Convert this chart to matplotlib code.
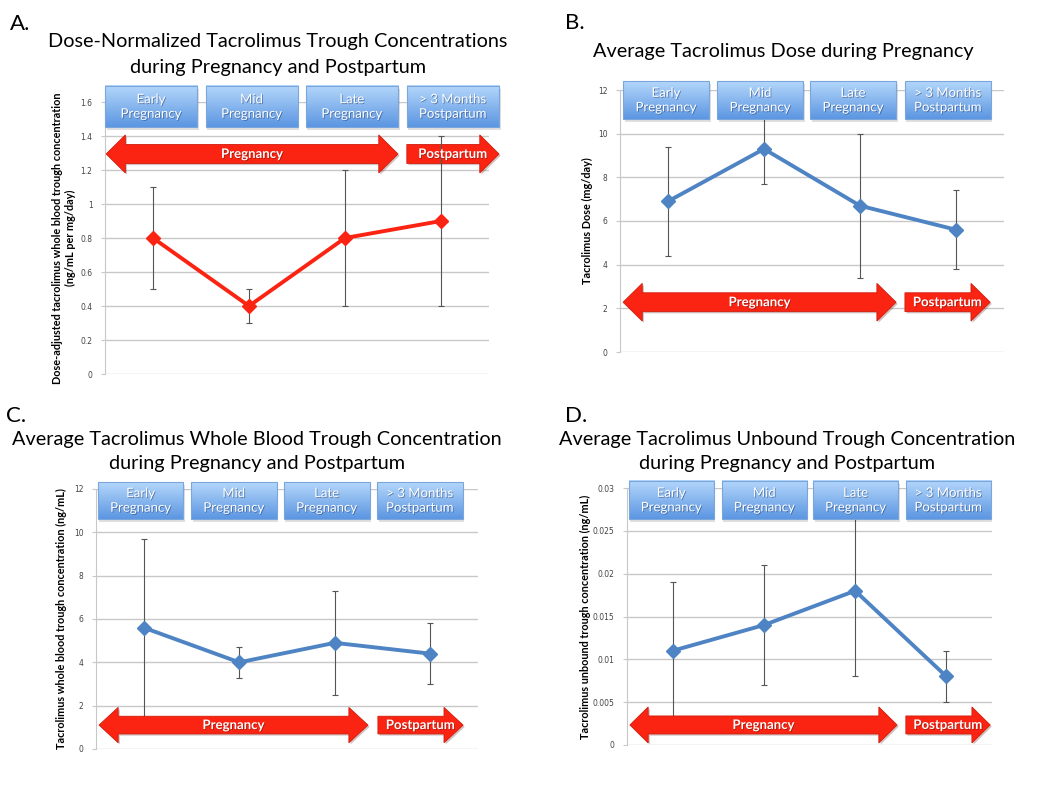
import numpy as np
import matplotlib
matplotlib.use("Agg")
import matplotlib.pyplot as plt
from matplotlib.patches import Polygon, Rectangle
import matplotlib.patheffects as pe

plt.rcParams['font.family'] = ['Lato', 'DejaVu Sans']

# data
phases = ['Early\nPregnancy', 'Mid\nPregnancy', 'Late\nPregnancy', '> 3 Months\nPostpartum']

normalized_mean = [0.8, 0.4, 0.8, 0.9]
normalized_err = [0.3, 0.1, 0.4, 0.5]

dose_mean = [6.9, 9.3, 6.7, 5.6]
dose_err = [2.5, 1.6, 3.3, 1.8]

whole_mean = [5.6, 4.0, 4.9, 4.4]
whole_err = [4.1, 0.7, 2.4, 1.4]

unbound_mean = [0.011, 0.014, 0.018, 0.008]
unbound_err = [0.008, 0.007, 0.010, 0.003]

RED = '#fb2412'
BLUE = '#4f84c4'

W, H = 1050, 788
fig = plt.figure(figsize=(10.5, 7.88), dpi=100)
fig.patch.set_facecolor('white')


def px_axes(left, bottom, width, height):
    return fig.add_axes([left / W, (H - bottom) / H, width / W, height / H])


def draw_arrow(ax, x0, x1, yc, hh, bh, hl, left_head, label, z):
    pts = []
    if left_head:
        pts += [(x0, yc), (x0 + hl, yc + hh), (x0 + hl, yc + bh)]
    else:
        pts += [(x0, yc + bh)]
    pts += [(x1 - hl, yc + bh), (x1 - hl, yc + hh), (x1, yc),
            (x1 - hl, yc - hh), (x1 - hl, yc - bh)]
    if left_head:
        pts += [(x0 + hl, yc - bh), (x0 + hl, yc - hh)]
    else:
        pts += [(x0, yc - bh)]
    poly = Polygon(pts, closed=True, transform=ax.transAxes, clip_on=False,
                   facecolor=RED, edgecolor='#d01c0c', lw=0.6, zorder=z,
                   path_effects=[pe.SimplePatchShadow(offset=(1.2, -1.2), alpha=0.25), pe.Normal()])
    ax.add_patch(poly)
    ax.text((x0 + x1) / 2, yc, label, transform=ax.transAxes, ha='center', va='center',
            color='white', fontsize=9.5, fontweight='bold', zorder=z + 1,
            path_effects=[pe.withSimplePatchShadow(offset=(0.6, -0.6), shadow_rgbFace='#801008', alpha=0.6)])


def draw_boxes(ax, starts, width, y0, y1):
    grad = np.linspace(0, 1, 64).reshape(-1, 1)
    cmap = matplotlib.colors.LinearSegmentedColormap.from_list('b', ['#5c96e2', '#b4d7fb'])
    for s, lab in zip(starts, phases):
        ax.add_patch(Rectangle((s + 0.004, y0 - 0.012), width, y1 - y0, transform=ax.transAxes,
                               facecolor='#000000', alpha=0.12, lw=0, clip_on=False, zorder=5))
        ax.imshow(grad, extent=(s, s + width, y0, y1), transform=ax.transAxes, cmap=cmap,
                  aspect='auto', origin='lower', clip_on=False, zorder=6, interpolation='bilinear')
        ax.add_patch(Rectangle((s, y0), width, y1 - y0, transform=ax.transAxes, fill=False,
                               edgecolor='#7aa6dc', lw=0.8, clip_on=False, zorder=7))
        ax.text(s + width / 2, (y0 + y1) / 2, lab, transform=ax.transAxes, ha='center', va='center',
                color='white', fontsize=9.5, linespacing=1.25, zorder=8,
                path_effects=[pe.withSimplePatchShadow(offset=(0.6, -0.6), shadow_rgbFace='#1f3d70', alpha=0.55)])


def setup(ax, mean, err, color, ymax, yticks, ticklabels, ylabel, ylab_x, title, title_y, letter, letter_xy,
          box_starts, box_w, box_y, arr, arr_z):
    x = np.arange(len(mean))
    ax.errorbar(x, mean, yerr=err, fmt='none', ecolor='#555555', elinewidth=0.8, capsize=2,
                capthick=0.8, zorder=3)
    ax.plot(x, mean, color=color, lw=2.8, marker='D', markersize=7, zorder=4)
    ax.set_xlim(-0.5, len(mean) - 0.5)
    ax.set_ylim(0, ymax)
    ax.set_yticks(yticks)
    ax.set_yticklabels(ticklabels, fontsize=5.5, color='#444444', family='DejaVu Sans')
    ax.set_xticks([])
    ax.yaxis.grid(True, color='#c8c8c8', lw=1)
    ax.set_axisbelow(True)
    for s in ['top', 'right', 'bottom']:
        ax.spines[s].set_visible(False)
    ax.spines['left'].set_color('#c8c8c8')
    ax.tick_params(axis='y', length=3, color='#c8c8c8', pad=6)
    ax.set_facecolor('white')
    ax.set_ylabel(ylabel, fontsize=7.8, fontweight='bold', labelpad=0)
    ax.yaxis.set_label_coords(ylab_x, 0.5)
    for t, ty in zip(title, title_y):
        fig.text(t[1] / W, 1 - ty / H, t[0], ha='center', va='center', fontsize=14.3)
    fig.text(letter_xy[0] / W, 1 - letter_xy[1] / H, letter, ha='left', va='center', fontsize=16)
    draw_boxes(ax, box_starts, box_w, box_y[0], box_y[1])
    (p0, p1, q0, q1, yc, hh, bh, hl) = arr
    draw_arrow(ax, p0, p1, yc, hh, bh, hl, True, 'Pregnancy', arr_z)
    draw_arrow(ax, q0, q1, yc, hh, bh, hl, False, 'Postpartum', arr_z)


# A
axA = px_axes(105, 374, 384, 272)
setup(axA, normalized_mean, normalized_err, RED, 1.6, np.arange(0, 1.61, 0.2),
      ['0', '0.2', '0.4', '0.6', '0.8', '1', '1.2', '1.4', '1.6'],
      'Dose-adjusted tacrolimus whole blood trough concentration\n(ng/mL per mg/day)', -0.075,
      [('Dose-Normalized Tacrolimus Trough Concentrations', 278),
       ('during Pregnancy and Postpartum', 278)], [41, 67], 'A.', (10, 24),
      [0.0, 0.262, 0.523, 0.786], 0.24, (0.908, 1.059),
      (0.003, 0.763, 0.786, 1.026, 0.809, 0.07, 0.035, 0.05), 2)

# B
axB = px_axes(620, 352, 384, 262)
setup(axB, dose_mean, dose_err, BLUE, 12, np.arange(0, 13, 2),
      ['0', '2', '4', '6', '8', '10', '12'],
      'Tacrolimus Dose (mg/day)', -0.07,
      [('Average Tacrolimus Dose during Pregnancy', 783)], [51], 'B.', (565, 23),
      [0.008, 0.253, 0.495, 0.742], 0.224, (0.889, 1.034),
      (0.008, 0.719, 0.742, 0.964, 0.19, 0.072, 0.036, 0.05), 5)

# C
axC = px_axes(96, 749, 382, 260)
setup(axC, whole_mean, whole_err, BLUE, 12, np.arange(0, 13, 2),
      ['0', '2', '4', '6', '8', '10', '12'],
      'Tacrolimus whole blood trough concentration (ng/mL)', -0.075,
      [('Average Tacrolimus Whole Blood Trough Concentration', 257),
       ('during Pregnancy and Postpartum', 257)], [439, 464], 'C.', (6, 416),
      [0.005, 0.249, 0.492, 0.736], 0.224, (0.885, 1.027),
      (0.008, 0.712, 0.738, 0.961, 0.092, 0.068, 0.034, 0.05), 5)

# D
axD = px_axes(627, 745, 365, 257)
setup(axD, unbound_mean, unbound_err, BLUE, 0.03, np.arange(0, 0.0301, 0.005),
      ['0', '0.005', '0.01', '0.015', '0.02', '0.025', '0.03'],
      'Tacrolimus unbound trough concentration (ng/mL)', -0.1,
      [('Average Tacrolimus Unbound Trough Concentration', 787),
       ('during Pregnancy and Postpartum', 787)], [439, 464], 'D.', (565, 416),
      [0.005, 0.26, 0.51, 0.764], 0.233, (0.879, 1.027),
      (0.008, 0.740, 0.764, 0.995, 0.078, 0.07, 0.035, 0.05), 5)

fig.savefig('out.png', dpi=100, facecolor='white')
